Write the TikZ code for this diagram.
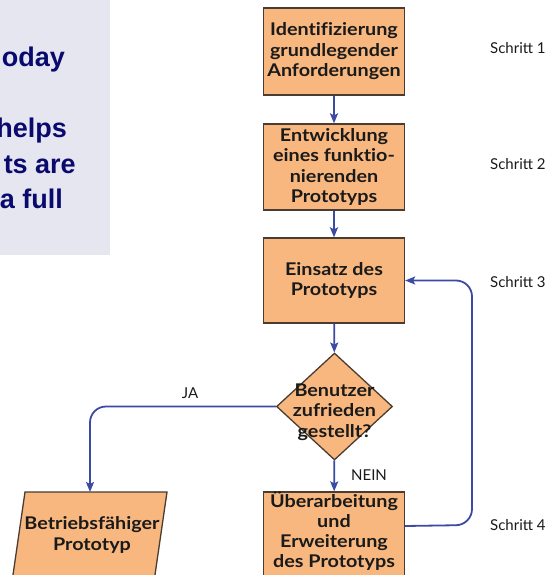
\documentclass[tikz,border=0pt]{standalone}
\usepackage{fontspec}
\setmainfont{Lato}
\newfontfamily\boxfont[FakeStretch=1.13, Ligatures=NoCommon]{Lato}
\newfontfamily\panelfont{Liberation Sans}
\usetikzlibrary{shapes.geometric,arrows.meta}
\definecolor{boxfill}{HTML}{F7B77E}
\definecolor{boxline}{HTML}{4A3C30}
\definecolor{arrowblue}{HTML}{3B4BA3}
\definecolor{panelbg}{HTML}{E6E6F0}
\definecolor{paneltext}{HTML}{0A0A6E}
\definecolor{boxtext}{HTML}{1A1A1A}
\begin{document}
\begin{tikzpicture}[x=1pt,y=-1pt,
  stepbox/.style={draw=boxline, line width=1.3pt, fill=boxfill, minimum width=141pt, align=center,
    font=\boxfont\bfseries\fontsize{17.5}{20.5}\selectfont, text=boxtext, inner sep=0pt},
  steptext/.style={align=center, font=\boxfont\bfseries\fontsize{17.5}{20.5}\selectfont, text=boxtext, inner sep=0pt},
  decision/.style={diamond, draw=boxline, line width=1.3pt, fill=boxfill, minimum width=116pt, minimum height=107pt, inner sep=0pt},
  flow/.style={draw=arrowblue, line width=1.8pt, -{Stealth[length=10pt,width=8pt,inset=2pt]}},
  steplabel/.style={anchor=west, font=\fontsize{15}{18}\selectfont, text=boxtext, inner sep=0pt},
  branchlabel/.style={font=\fontsize{15}{18}\selectfont, text=boxtext, inner sep=0pt},
  paneltxt/.style={anchor=base east, font=\panelfont\bfseries\fontsize{27}{30}\selectfont, text=paneltext, inner sep=0pt}
]
\useasboundingbox (0,0) rectangle (556,575);
\clip (0,0) rectangle (556,575);
% side panel
\fill[panelbg] (0,0) rectangle (110,255);
\node[paneltxt] (p1) at (65,67) {oday};
\node[paneltxt] (p2) at (67,138) {helps};
\node[paneltxt] (p3) at (76,173) {ts are};
\node[paneltxt] (p4) at (63,208) {a full};
% boxes
\node[stepbox, minimum height=87pt] (b1) at (334,51.5) {Identifizierung\\grundlegender\\Anforderungen};
\node[stepbox, minimum height=86pt] (b2) at (334,167) {Entwicklung\\eines funktio-\\nierenden\\Prototyps};
\node[stepbox, minimum height=85pt] (b3) at (334,280.5) {Einsatz des\\Prototyps};
\node[decision] (dec) at (334.5,406.5) {};
\node[steptext] (dect) at (334.5,412) {Benutzer\\zufrieden\\gestellt?};
\node[stepbox, minimum height=88pt] (b4) at (334,536) {};
\node[steptext, font=\boxfont\bfseries\fontsize{17.5}{20}\selectfont] (b4t) at (334,531.5) {Überarbeitung\\und\\Erweiterung\\des Prototyps};
% parallelogram
\filldraw[draw=boxline, line width=1.3pt, fill=boxfill] (25,492) -- (167,492) -- (152.8,590) -- (10.8,590) -- cycle;
\node[steptext] (prod) at (92,535) {Betriebsfähiger\\Prototyp};
\coordinate (prodtop) at (90,492);
% step labels
\node[steplabel] (s1) at (490,48) {Schritt 1};
\node[steplabel] (s2) at (490,164) {Schritt 2};
\node[steplabel] (s3) at (490,282) {Schritt 3};
\node[steplabel] (s4) at (490,525) {Schritt 4};
% connectors
\draw[flow] (b1) -- (b2);
\draw[flow] (b2) -- (b3);
\draw[flow] (b3) -- (dec);
\draw[flow] (dec) -- (b4);
\node[branchlabel] (nein) at (369,475) {NEIN};
\draw[flow, rounded corners=16pt] ([yshift=10pt]b4.east) -- (472,525) |- (b3.east);
\draw[flow, rounded corners=16pt] (dec.west) -| (prodtop);
\node[branchlabel] (ja) at (190,393) {JA};
\end{tikzpicture}
\end{document}
